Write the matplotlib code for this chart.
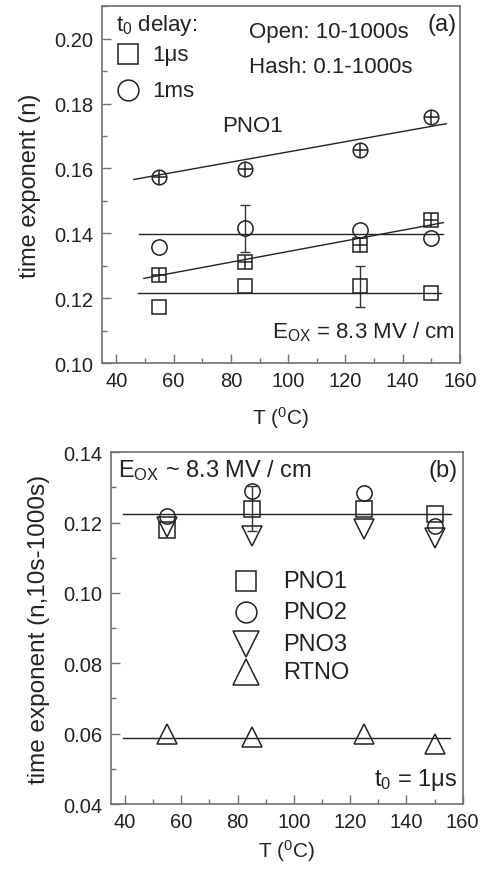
import numpy as np
import matplotlib
matplotlib.use('Agg')
import matplotlib.pyplot as plt
from matplotlib.ticker import MultipleLocator

plt.rcParams['font.family'] = ['Liberation Sans', 'DejaVu Sans']
plt.rcParams['mathtext.fontset'] = 'custom'
plt.rcParams['mathtext.rm'] = 'Liberation Sans'
plt.rcParams['mathtext.it'] = 'Liberation Sans'

# temperatures (C)
T = [55, 85, 125, 150]

# panel (a): PNO1
n_1us_open = [0.1174, 0.1238, 0.1236, 0.1215]     # 10-1000s
n_1ms_open = [0.1359, 0.1415, 0.1410, 0.1384]
n_1us_hash = [0.1271, 0.1312, 0.1363, 0.1440]     # 0.1-1000s
n_1ms_hash = [0.1573, 0.1597, 0.1658, 0.1758]
err_1us_open = [0, 0, 0.0062, 0]
err_1ms_open = [0, 0.0072, 0, 0]
# fitted lines: (T start, T end, n start, n end)
fit_a = [
    (47.5, 153.5, 0.1217, 0.1217),
    (47.8, 154.2, 0.1397, 0.1397),
    (49.6, 154.2, 0.1261, 0.1433),
    (46.1, 155.2, 0.1566, 0.1738),
]

# panel (b): 10s-1000s, t0 = 1us
n_pno1 = [0.1178, 0.1239, 0.1239, 0.1225]
n_pno2 = [0.1220, 0.1291, 0.1285, 0.1190]
n_pno3 = [0.1187, 0.1162, 0.1182, 0.1156]
n_rtno = [0.0599, 0.0590, 0.0599, 0.0571]
err_pno1 = [0, 0.0064, 0, 0]
fit_b = [
    (39.2, 155.9, 0.1225, 0.1225),
    (39.2, 155.5, 0.0587, 0.0587),
]

spine_c = '#707070'
txt_c = '#222222'
fs = 14.5      # tick labels
fa = 16        # annotations panel (a)
fb = 17        # annotations panel (b)

fig = plt.figure(figsize=(4.86, 8.70), dpi=100)
ax1 = fig.add_axes([0.2099, 0.5816, 0.7366, 0.4100])
ax2 = fig.add_axes([0.2284, 0.0747, 0.7237, 0.4043])


def style(ax, xpad):
    for s in ax.spines.values():
        s.set_color(spine_c)
        s.set_linewidth(1.2)
    ax.xaxis.set_major_locator(MultipleLocator(20))
    ax.xaxis.set_minor_locator(MultipleLocator(10))
    ax.yaxis.set_major_locator(MultipleLocator(0.02))
    ax.yaxis.set_minor_locator(MultipleLocator(0.01))
    ax.tick_params(which='both', direction='in', color=spine_c, width=1.0,
                   labelsize=fs, labelcolor=txt_c, top=False, right=False)
    ax.tick_params(which='major', length=6.5, pad=6)
    ax.tick_params(which='minor', length=3.5)
    ax.yaxis.set_major_formatter(plt.FuncFormatter(lambda v, p: '%.2f' % v))
    ax.set_xlabel('T ($^0$C)', fontsize=15, color=txt_c, labelpad=xpad)


def errbars(ax, x, y, e):
    idx = [i for i in range(len(x)) if e[i] > 0]
    ax.errorbar([x[i] for i in idx], [y[i] for i in idx],
                yerr=[e[i] for i in idx], fmt='none', ecolor='#333333',
                elinewidth=1.0, capsize=3.5, capthick=1.0)


mk = dict(ls='none', mfc='none', mec='#222222', mew=1.1)

# ---- panel (a)
style(ax1, 10)
ax1.set_xlim(35, 160)
ax1.set_ylim(0.10, 0.21)
for x0, x1, y0, y1 in fit_a:
    ax1.plot([x0, x1], [y0, y1], color='#222222', lw=1.0)
errbars(ax1, T, n_1us_open, err_1us_open)
errbars(ax1, T, n_1ms_open, err_1ms_open)
ax1.plot(T, n_1us_open, marker='s', ms=10, **mk)
ax1.plot(T, n_1ms_open, marker='o', ms=11, **mk)
ax1.plot(T, n_1us_hash, marker='s', ms=10, **mk)
ax1.plot(T, n_1us_hash, marker='+', ms=10, ls='none', mec='#222222', mew=1.1)
ax1.plot(T, n_1ms_hash, marker='o', ms=10.5, **mk)
ax1.plot(T, n_1ms_hash, marker='+', ms=10.5, ls='none', mec='#222222', mew=1.1)

ax1.text(0.04, 0.985, 't$_0$ delay:', transform=ax1.transAxes, fontsize=fa,
         color=txt_c, va='top', ha='left')
ax1.plot([0.072], [0.865], transform=ax1.transAxes, marker='s', ms=14, **mk)
ax1.plot([0.072], [0.765], transform=ax1.transAxes, marker='o', ms=15, **mk)
ax1.text(0.14, 0.865, '1μs', transform=ax1.transAxes, fontsize=fa,
         color=txt_c, va='center', ha='left')
ax1.text(0.14, 0.765, '1ms', transform=ax1.transAxes, fontsize=fa,
         color=txt_c, va='center', ha='left')
ax1.text(0.41, 0.93, 'Open: 10-1000s', transform=ax1.transAxes, fontsize=fa,
         color=txt_c, va='center', ha='left')
ax1.text(0.41, 0.83, 'Hash: 0.1-1000s', transform=ax1.transAxes, fontsize=fa,
         color=txt_c, va='center', ha='left')
ax1.text(0.99, 0.95, '(a)', transform=ax1.transAxes, fontsize=fa + 1,
         color=txt_c, va='center', ha='right')
ax1.text(0.335, 0.665, 'PNO1', transform=ax1.transAxes, fontsize=fa,
         color=txt_c, va='center', ha='left')
ax1.text(0.985, 0.09, 'E$_{\\mathregular{OX}}$ = 8.3 MV / cm',
         transform=ax1.transAxes, fontsize=fa, color=txt_c,
         va='center', ha='right')
ax1.set_ylabel('time exponent (n)', fontsize=17, color=txt_c, labelpad=10)

# ---- panel (b)
style(ax2, 4)
ax2.set_xlim(35, 160)
ax2.set_ylim(0.04, 0.14)
for x0, x1, y0, y1 in fit_b:
    ax2.plot([x0, x1], [y0, y1], color='#222222', lw=1.0)
errbars(ax2, T, n_pno1, err_pno1)
ax2.plot(T, n_pno1, marker='s', ms=11, **mk)
ax2.plot(T, n_pno2, marker='o', ms=11, **mk)
ax2.plot(T, n_pno3, marker='v', ms=14, **mk)
ax2.plot(T, n_rtno, marker='^', ms=14, **mk)

leg_labels = ['PNO1', 'PNO2', 'PNO3', 'RTNO']
leg_marks = ['s', 'o', 'v', '^']
leg_ms = [14, 15, 19, 19]
leg_y = [0.635, 0.545, 0.455, 0.375]
for lab, m, s, yy in zip(leg_labels, leg_marks, leg_ms, leg_y):
    ax2.plot([0.385], [yy], transform=ax2.transAxes, marker=m, ms=s, **mk)
    ax2.text(0.49, yy, lab, transform=ax2.transAxes, fontsize=fb,
             color=txt_c, va='center', ha='left')

ax2.text(0.02, 0.95, 'E$_{\\mathregular{OX}}$ ~ 8.3 MV / cm',
         transform=ax2.transAxes, fontsize=fb, color=txt_c,
         va='center', ha='left')
ax2.text(0.985, 0.95, '(b)', transform=ax2.transAxes, fontsize=fb,
         color=txt_c, va='center', ha='right')
ax2.text(0.985, 0.07, 't$_0$ = 1μs', transform=ax2.transAxes, fontsize=fb,
         color=txt_c, va='center', ha='right')
ax2.set_ylabel('time exponent (n,10s-1000s)', fontsize=17.5, color=txt_c,
               labelpad=10)

fig.savefig('out.png', dpi=100)
